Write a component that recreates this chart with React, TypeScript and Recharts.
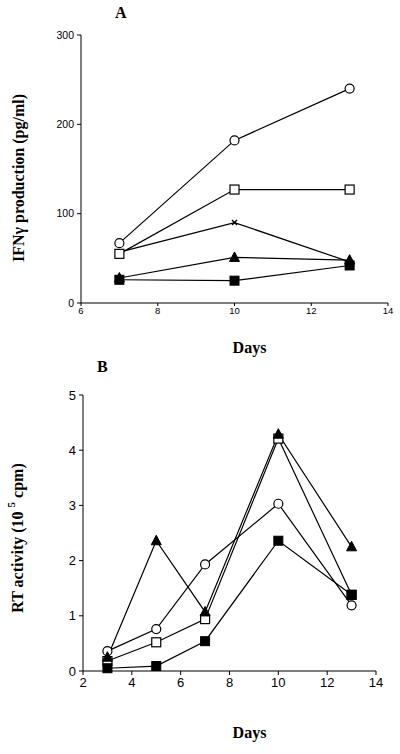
import React from 'react';
import { LineChart, Line, XAxis, YAxis, Label } from 'recharts';

// Panel A: IFNγ production (pg/ml) vs days
const daysA = [7, 10, 13];
const openCircleA = [67, 182, 240];
const openSquareA = [55, 127, 127];
const crossA = [57, 90, 46];
const triangleA = [28, 51, 48];
const filledSquareA = [26, 25, 42];
const xTicksA = [6, 8, 10, 12, 14];
const yTicksA = [0, 100, 200, 300];

// Panel B: RT activity (10^5 cpm) vs days
const daysB = [3, 5, 7, 10, 13];
const openSquareB = [0.18, 0.52, 0.94, 4.21, 1.38];
const openCircleB = [0.36, 0.76, 1.93, 3.03, 1.19];
const triangleB = [0.25, 2.36, 1.07, 4.29, 2.25];
const filledSquareB = [0.05, 0.09, 0.54, 2.36, 1.38];
const xTicksB = [2, 4, 6, 8, 10, 12, 14];
const yTicksB = [0, 1, 2, 3, 4, 5];

const toData = (days: number[], vals: number[]) => days.map((d, i) => ({ day: d, v: vals[i] }));

const SERIF = '"Liberation Serif", "Times New Roman", serif';
const SANS = '"Liberation Sans", Arial, sans-serif';

type Shape = 'openCircle' | 'openSquare' | 'filledSquare' | 'triangle' | 'cross';

const makeDot = (shape: Shape) => (props: any) => {
  const { cx, cy, index } = props;
  const key = `${shape}-${index}`;
  if (cx == null || cy == null) return <g key={key} />;
  switch (shape) {
    case 'openCircle':
      return <circle key={key} cx={cx} cy={cy} r={4.5} fill="#fff" stroke="#000" strokeWidth={1.2} />;
    case 'openSquare':
      return <rect key={key} x={cx - 4.5} y={cy - 4.5} width={9} height={9} fill="#fff" stroke="#000" strokeWidth={1.2} />;
    case 'filledSquare':
      return <rect key={key} x={cx - 4.5} y={cy - 4.5} width={9} height={9} fill="#000" stroke="#000" strokeWidth={1} />;
    case 'triangle':
      return (
        <polygon
          key={key}
          points={`${cx},${cy - 5.5} ${cx + 5},${cy + 4} ${cx - 5},${cy + 4}`}
          fill="#000"
          stroke="#000"
          strokeWidth={1}
        />
      );
    case 'cross':
      return (
        <g key={key} stroke="#000" strokeWidth={1.4}>
          <line x1={cx - 2.5} y1={cy - 2.5} x2={cx + 2.5} y2={cy + 2.5} />
          <line x1={cx - 2.5} y1={cy + 2.5} x2={cx + 2.5} y2={cy - 2.5} />
        </g>
      );
  }
  return <g key={key} />;
};

const daysLabel = (dx: number, dy: number) => (props: any) => {
  const vb = props.viewBox || {};
  return (
    <text
      x={vb.x + vb.width / 2 + dx}
      y={vb.y + dy}
      textAnchor="middle"
      dominantBaseline="central"
      fontFamily={SERIF}
      fontWeight="bold"
      fontSize={16}
      fill="#000"
    >
      Days
    </text>
  );
};

const yLabelA = (props: any) => {
  const vb = props.viewBox || {};
  const x = 18;
  const y = vb.y + 143;
  return (
    <text
      x={x}
      y={y}
      transform={`rotate(-90, ${x}, ${y})`}
      textAnchor="middle"
      dominantBaseline="central"
      fontFamily={SERIF}
      fontWeight="bold"
      fontSize={16}
      fill="#000"
    >
      IFNγ production (pg/ml)
    </text>
  );
};

const yLabelB = (props: any) => {
  const vb = props.viewBox || {};
  const x = 17;
  const y = vb.y + 143;
  return (
    <text
      x={x}
      y={y}
      transform={`rotate(-90, ${x}, ${y})`}
      textAnchor="middle"
      dominantBaseline="central"
      fontFamily={SERIF}
      fontWeight="bold"
      fontSize={16}
      fill="#000"
    >
      RT activity (10{' '}
      <tspan fontSize={11} dy={-6}>5</tspan>
      <tspan dy={6}> cpm)</tspan>
    </text>
  );
};

const lineProps = {
  dataKey: 'v',
  stroke: '#000',
  strokeWidth: 1.2,
  isAnimationActive: false,
  activeDot: false as const,
  legendType: 'none' as const,
};

export default function App() {
  return (
    <div style={{ position: 'absolute', left: 0, top: 0, width: 400, height: 754, background: '#fff' }}>
      <div
        style={{
          position: 'absolute',
          left: 115,
          top: 3,
          fontFamily: SERIF,
          fontWeight: 'bold',
          fontSize: 16,
          lineHeight: '20px',
        }}
      >
        A
      </div>
      <div
        style={{
          position: 'absolute',
          left: 97,
          top: 357,
          fontFamily: SERIF,
          fontWeight: 'bold',
          fontSize: 16,
          lineHeight: '20px',
        }}
      >
        B
      </div>

      <div style={{ position: 'absolute', left: 0, top: 0 }}>
        <LineChart width={400} height={360} margin={{ top: 35, right: 12, bottom: 0, left: 0 }}>
          <XAxis
            type="number"
            dataKey="day"
            domain={[6, 14]}
            ticks={xTicksA}
            height={57}
            allowDataOverflow
            stroke="#000"
            tickSize={3}
            tickMargin={1}
            tick={{ fill: '#000', fontSize: 9.5, fontFamily: SANS }}
            tickLine={{ stroke: '#000' }}
          >
            <Label content={daysLabel(15, 44)} />
          </XAxis>
          <YAxis
            type="number"
            domain={[0, 300]}
            ticks={yTicksA}
            width={81}
            stroke="#000"
            tickSize={4}
            tickMargin={3}
            tick={{ fill: '#000', fontSize: 10.5, fontFamily: SANS }}
            tickLine={{ stroke: '#000' }}
          >
            <Label content={yLabelA} />
          </YAxis>
          <Line {...lineProps} data={toData(daysA, crossA)} dot={makeDot('cross')} />
          <Line {...lineProps} data={toData(daysA, openSquareA)} dot={makeDot('openSquare')} />
          <Line {...lineProps} data={toData(daysA, openCircleA)} dot={makeDot('openCircle')} />
          <Line {...lineProps} data={toData(daysA, triangleA)} dot={makeDot('triangle')} />
          <Line {...lineProps} data={toData(daysA, filledSquareA)} dot={makeDot('filledSquare')} />
        </LineChart>
      </div>

      <div style={{ position: 'absolute', left: 0, top: 360 }}>
        <LineChart width={400} height={394} margin={{ top: 35, right: 24, bottom: 0, left: 0 }}>
          <XAxis
            type="number"
            dataKey="day"
            domain={[2, 14]}
            ticks={xTicksB}
            height={83}
            allowDataOverflow
            stroke="#000"
            tickSize={4}
            tickMargin={3}
            tick={{ fill: '#000', fontSize: 13, fontFamily: SANS }}
            tickLine={{ stroke: '#000' }}
          >
            <Label content={daysLabel(20, 61)} />
          </XAxis>
          <YAxis
            type="number"
            domain={[0, 5]}
            ticks={yTicksB}
            width={83}
            stroke="#000"
            tickSize={4}
            tickMargin={3}
            tick={{ fill: '#000', fontSize: 13, fontFamily: SANS }}
            tickLine={{ stroke: '#000' }}
          >
            <Label content={yLabelB} />
          </YAxis>
          <Line {...lineProps} data={toData(daysB, openSquareB)} dot={makeDot('openSquare')} />
          <Line {...lineProps} data={toData(daysB, openCircleB)} dot={makeDot('openCircle')} />
          <Line {...lineProps} data={toData(daysB, triangleB)} dot={makeDot('triangle')} />
          <Line {...lineProps} data={toData(daysB, filledSquareB)} dot={makeDot('filledSquare')} />
        </LineChart>
      </div>
    </div>
  );
}
